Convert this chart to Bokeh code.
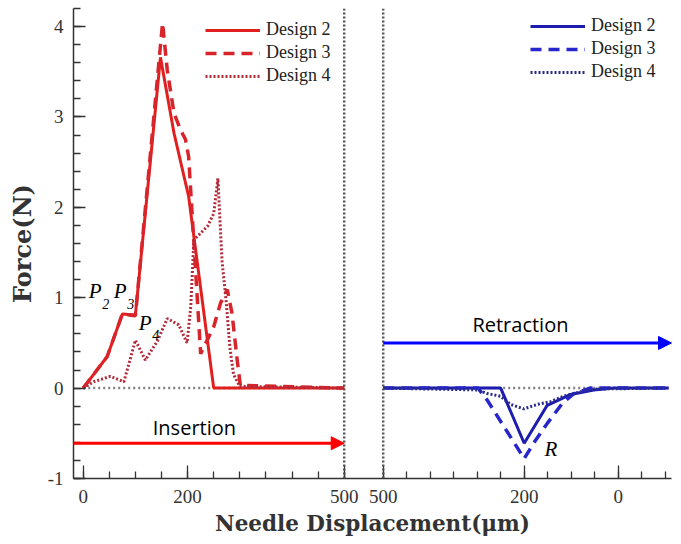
from bokeh.plotting import figure
from bokeh.models import (Range1d, FixedTicker, CustomJSTickFormatter, Legend, LegendItem,
                          Span, Label, Arrow, NormalHead)
from bokeh.embed import file_html
from bokeh.resources import INLINE

# ---------------- data (needle displacement in um, force in N) ----------------
# Insertion phase (left panel, red)
ins_d2_x = [0, 46, 75, 100, 148, 174, 202, 250, 500]
ins_d2_y = [0, 0.35, 0.82, 0.81, 3.66, 2.82, 2.12, 0.0, 0.0]

ins_d3_x = [0, 46, 75, 100, 152, 161, 174, 187, 196, 202, 225, 250, 263, 276, 285, 295, 301, 500]
ins_d3_y = [0, 0.35, 0.82, 0.80, 4.04, 3.52, 3.04, 2.85, 2.75, 2.56, 0.38, 0.68, 0.94, 1.09, 0.83, 0.31, 0.03, 0.0]

ins_d4_x = [0, 20, 52, 78, 100, 119, 142, 161, 183, 199, 206, 212, 238, 250, 258, 266, 274, 281, 288, 300, 500]
ins_d4_y = [0, 0.07, 0.13, 0.07, 0.53, 0.31, 0.52, 0.77, 0.70, 0.50, 0.90, 1.64, 1.79, 1.93, 2.32, 1.40, 0.95, 0.45, 0.15, 0.02, 0.0]

# Retraction phase (right panel, blue), displacement runs 500 -> 0
ret_d2_x = [500, 250, 200, 151, 101, 52, 9, -107]
ret_d2_y = [0, 0, -0.61, -0.19, -0.07, -0.02, 0, 0]

ret_d3_x = [500, 298, 279, 200, 180, 151, 119, 94, 60, -107]
ret_d3_y = [0, 0, -0.13, -0.78, -0.61, -0.39, -0.17, -0.06, 0, 0]

ret_d4_x = [500, 300, 279, 250, 229, 201, 172, 144, 116, 80, 50, -107]
ret_d4_y = [0, -0.02, -0.06, -0.09, -0.18, -0.23, -0.18, -0.15, -0.09, -0.04, -0.01, 0]

labels = ["Design 2", "Design 3", "Design 4"]
left_major = [0, 200, 500]
right_major = [500, 200, 0]
left_minor = list(range(0, 501, 50))
right_minor = list(range(500, -101, -50))
y_major = [-1, 0, 1, 2, 3, 4]
y_minor = [round(-1 + 0.2 * i, 1) for i in range(27)]

# right panel is drawn on the same axis, reversed and offset
R0 = 574.7
K = 0.47 / 0.522


def to_right(xs):
    return [R0 + K * (500 - x) for x in xs]


RED2, RED3, RED4 = "#e21f1f", "#d8252b", "#b02a3a"
BLU2, BLU3, BLU4 = "#1c1cb0", "#2626cc", "#2a2a8c"
SERIF = "Liberation Serif"

p = figure(frame_width=598, frame_height=470, output_backend="svg", toolbar_location=None,
           x_range=Range1d(-18.6, 1127), y_range=Range1d(-1, 4.2),
           min_border_left=73, min_border_right=10, min_border_top=8, min_border_bottom=66)
p.grid.visible = False
p.outline_line_color = None
p.background_fill_color = "white"

# zero reference lines
p.line([0, 500], [0, 0], line_color="#808080", line_width=2.5, line_dash="2 3")
p.line(to_right([500, -107]), [0, 0], line_color="#808080", line_width=2.5, line_dash="2 3")

# vertical separators
for loc in (500, R0):
    p.add_layout(Span(location=loc, dimension="height", line_color="#555555",
                      line_width=2.5, line_dash="2 2"))

r_l2 = p.line(ins_d2_x, ins_d2_y, line_color=RED2, line_width=3)
r_l3 = p.line(ins_d3_x, ins_d3_y, line_color=RED3, line_width=3.5, line_dash="11 7")
r_l4 = p.line(ins_d4_x, ins_d4_y, line_color=RED4, line_width=3, line_dash="2 2")

r_r2 = p.line(to_right(ret_d2_x), ret_d2_y, line_color=BLU2, line_width=3)
r_r3 = p.line(to_right(ret_d3_x), ret_d3_y, line_color=BLU3, line_width=3.5, line_dash="11 7")
r_r4 = p.line(to_right(ret_d4_x), ret_d4_y, line_color=BLU4, line_width=3, line_dash="2 2")

# axes
p.xaxis.ticker = FixedTicker(ticks=left_major + to_right(right_major),
                             minor_ticks=left_minor + to_right(right_minor))
p.xaxis.formatter = CustomJSTickFormatter(code="""
const R0 = %f, K = %f;
if (tick < 540) { return Math.round(tick).toFixed(0); }
const v = Math.round(500 - (tick - R0) / K);
return (v === 0) ? "0" : v.toFixed(0);
""" % (R0, K))
p.yaxis.ticker = FixedTicker(ticks=y_major, minor_ticks=y_minor)
p.yaxis.formatter = CustomJSTickFormatter(code="return tick < 0 ? '-' + Math.abs(tick).toFixed(0) : tick.toFixed(0);")

for ax in (p.xaxis[0], p.yaxis[0]):
    ax.axis_line_color = "#333333"
    ax.axis_line_width = 1.5
    ax.major_tick_line_color = "#333333"
    ax.minor_tick_line_color = "#333333"
    ax.major_tick_line_width = 1.3
    ax.minor_tick_line_width = 1.3
    ax.major_tick_out = 0
    ax.minor_tick_out = 0
    ax.minor_tick_in = 7
    ax.major_label_text_font = SERIF
    ax.major_label_text_font_size = "19px"
    ax.major_label_text_color = "#333333"
    ax.axis_label_text_font = "DejaVu Serif"
    ax.axis_label_text_font_style = "bold"
    ax.axis_label_text_color = "#333333"

p.xaxis.major_tick_in = 13
p.yaxis.major_tick_in = 12
p.xaxis.major_label_standoff = 11
p.yaxis.major_label_standoff = 10
p.xaxis.axis_label = "Needle Displacement(μm)"
p.xaxis.axis_label_text_font_size = "21.5px"
p.xaxis.axis_label_standoff = 5
p.yaxis.axis_label = "Force(N)"
p.yaxis.axis_label_text_font_size = "24px"
p.yaxis.axis_label_standoff = 8


def make_legend(rs, loc):
    lg = Legend(items=[LegendItem(label=l, renderers=[r]) for l, r in zip(labels, rs)],
                location=loc, glyph_width=55, glyph_height=20, label_height=20,
                label_standoff=6, spacing=2, padding=0, margin=0,
                border_line_color=None, background_fill_alpha=0,
                label_text_font=SERIF, label_text_font_size="18px",
                label_text_color="#222222")
    return lg


p.add_layout(make_legend([r_l2, r_l3, r_l4], (132, 392)))
p.add_layout(make_legend([r_r2, r_r3, r_r4], (457, 396)))

# direction arrows
p.add_layout(Arrow(end=NormalHead(size=13, fill_color="#ff0000", line_color="#ff0000"),
                   x_start=-18.6, y_start=-0.61, x_end=500, y_end=-0.61,
                   line_color="#ff0000", line_width=3))
p.add_layout(Arrow(end=NormalHead(size=13, fill_color="#0000ff", line_color="#0000ff"),
                   x_start=R0, y_start=0.50, x_end=1127, y_end=0.50,
                   line_color="#0000ff", line_width=3))

p.add_layout(Label(x=213, y=-0.585, text="Insertion", text_font="Open Sans",
                   text_font_size="20px", text_align="center", text_color="black"))
p.add_layout(Label(x=to_right([208])[0], y=0.55, text="Retraction", text_font="Open Sans",
                   text_font_size="20px", text_align="center", text_color="black"))

# point annotations
ann = [("P", 10.7, 0.94, 21), ("2", 36.4, 0.88, 14), ("P", 58.6, 0.94, 21), ("3", 84.3, 0.88, 14),
       ("P", 106.5, 0.59, 21), ("4", 132.2, 0.53, 14)]
for t, x, y, s in ann:
    p.add_layout(Label(x=x, y=y, text=t, text_font=SERIF, text_font_style="italic",
                       text_font_size="%dpx" % s, text_color="black"))
p.add_layout(Label(x=to_right([157])[0], y=-0.81, text="R", text_font=SERIF,
                   text_font_style="italic", text_font_size="21px", text_color="black"))

open("out.html", "w").write(file_html(p, INLINE))
